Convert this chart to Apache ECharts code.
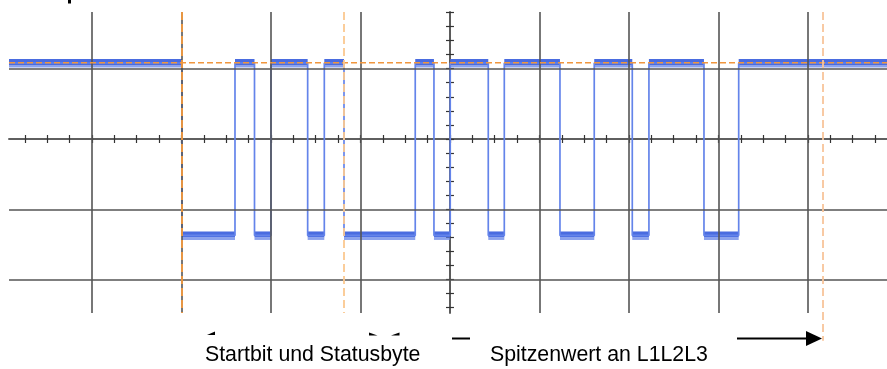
<!DOCTYPE html>
<html>
<head>
<meta charset="utf-8">
<script src="https://cdn.jsdelivr.net/npm/echarts@6/dist/echarts.min.js"></script>
<style>
html,body{margin:0;padding:0;background:#fff;}
#c{width:887px;height:369px;}
</style>
</head>
<body>
<div id="c"></div>
<script>
// Axis extents in screen divisions (center of screen = 0,0)
const XMIN = -4.927, XMAX = 4.883;
const YMIN = -2.475, YMAX = 1.806;

// grid divisions
const gridX = [-4, -3, -2, -1, 1, 2, 3, 4];
const gridY = [1, -1, -2];

// minor ticks on the center axes
const xTicks = [];
for (let k = -19; k <= 19; k++) xTicks.push(k * 0.25);
const yTicks = [];
for (let k = -12; k <= 9; k++) yTicks.push(Math.round(k * 0.2 * 100) / 100);

// signal: starts HIGH, toggles at each edge (x in divisions)
const edges = [-2.994, -2.402, -2.184, -2.000, -1.590, -1.404, -1.184, -0.388, -0.179, 0.003,
               0.428, 0.607, 1.229, 1.612, 2.037, 2.223, 2.838, 3.226];
const HIGH = 1.081;
const LOW = -1.372;

// cursors
const cursorY = 1.085;
const cursorX = [-2.994, -1.184, 4.168];
const cursorBottom = [YMIN, YMIN, -2.87];
const cursorColor = ['#f39a3e', '#fbc890', '#f8c49a'];

// build step trace
const trace = [];
let lvl = HIGH;
trace.push([XMIN, lvl]);
edges.forEach(e => {
  trace.push([e, lvl]);
  lvl = (lvl === HIGH) ? LOW : HIGH;
  trace.push([e, lvl]);
});
trace.push([XMAX, lvl]);

// plateaus (for the noisy band)
const plateaus = [];
{
  let start = XMIN, l = HIGH;
  edges.forEach(e => { plateaus.push([start, e, l]); start = e; l = (l === HIGH) ? LOW : HIGH; });
  plateaus.push([start, XMAX, l]);
}

const chart = echarts.init(document.getElementById('c'));

const axisLineStyle = { color: '#555', width: 1.6 };
const tickStyle = { color: '#333', width: 1.2 };

function mkX(inside) {
  return {
    type: 'value', min: XMIN, max: XMAX, position: 'bottom',
    axisLine: { show: true, onZero: true, lineStyle: axisLineStyle },
    axisTick: { show: true, inside: inside, length: 4, customValues: xTicks, lineStyle: tickStyle },
    axisLabel: { show: false }, splitLine: { show: false }
  };
}
function mkY(inside) {
  return {
    type: 'value', min: YMIN, max: YMAX, position: 'left',
    axisLine: { show: true, onZero: true, lineStyle: axisLineStyle },
    axisTick: { show: true, inside: inside, length: 4, customValues: yTicks, lineStyle: tickStyle },
    axisLabel: { show: false }, splitLine: { show: false }
  };
}

const series = [];
// grid lines
series.push({
  type: 'line', data: [], silent: true, z: 1,
  markLine: {
    silent: true, symbol: 'none', animation: false,
    label: { show: false },
    lineStyle: { color: '#555', width: 1.6, type: 'solid' },
    data: gridX.map(v => ({ xAxis: v })).concat(gridY.map(v => ({ yAxis: v })))
  }
});
// noisy band on plateaus
series.push({
  type: 'custom', data: plateaus, z: 3, silent: true,
  encode: { x: [0, 1], y: 2 },
  renderItem: function (params, api) {
    const p0 = api.coord([api.value(0), api.value(2)]);
    const p1 = api.coord([api.value(1), api.value(2)]);
    const w = p1[0] - p0[0];
    return {
      type: 'group',
      children: [
        { type: 'rect', shape: { x: p0[0], y: p0[1] - 4, width: w, height: 6 }, style: { fill: '#4a6ce0' } },
        { type: 'rect', shape: { x: p0[0], y: p0[1] + 2, width: w, height: 2.5 }, style: { fill: '#6f8ce8', opacity: 0.8 } }
      ]
    };
  }
});
// signal trace
series.push({
  type: 'line', data: trace, z: 4, silent: true,
  symbol: 'none', showSymbol: false,
  lineStyle: { color: '#6484ea', width: 1.7 }
});
// horizontal cursor
series.push({
  type: 'line', data: [[XMIN, cursorY], [XMAX, cursorY]], z: 6, silent: true,
  symbol: 'none', showSymbol: false,
  lineStyle: { color: '#f0963e', width: 1.6, type: [6, 3] }
});
// vertical cursors
cursorX.forEach((cx, i) => {
  series.push({
    type: 'line', data: [[cx, YMAX], [cx, cursorBottom[i]]], z: 6, silent: true, clip: false,
    symbol: 'none', showSymbol: false,
    lineStyle: { color: cursorColor[i], width: 1.8, type: [8, 4] }
  });
});

const font = '"Liberation Sans", Arial, sans-serif';
chart.setOption({
  animation: false,
  backgroundColor: '#ffffff',
  grid: { left: 9, top: 12, right: 0, bottom: 56, containLabel: false },
  xAxis: [mkX(false), mkX(true)],
  yAxis: [mkY(false), mkY(true)],
  series: series,
  graphic: [
    { type: 'rect', shape: { x: 68, y: 0, width: 3, height: 3.5 }, style: { fill: '#000' } },
    { type: 'text', left: 205, top: 345, style: { text: 'Startbit und Statusbyte', font: '21.3px ' + font, fill: '#000' } },
    { type: 'text', left: 490, top: 345, style: { text: 'Spitzenwert an L1L2L3', font: '21.3px ' + font, fill: '#000' } },
    { type: 'polygon', shape: { points: [[207, 335], [215, 331.5], [215, 335]] }, style: { fill: '#000' } },
    { type: 'polygon', shape: { points: [[369, 332.5], [377.5, 335.5], [369, 335.5]] }, style: { fill: '#000' } },
    { type: 'polygon', shape: { points: [[391, 335.5], [399.5, 332.5], [399.5, 335.5]] }, style: { fill: '#000' } },
    { type: 'line', shape: { x1: 452, y1: 338.5, x2: 470, y2: 338.5 }, style: { stroke: '#000', lineWidth: 2 } },
    { type: 'line', shape: { x1: 737, y1: 338.5, x2: 808, y2: 338.5 }, style: { stroke: '#000', lineWidth: 2 } },
    { type: 'polygon', shape: { points: [[806, 331], [822, 338.5], [806, 346]] }, style: { fill: '#000' } }
  ]
});
</script>
</body>
</html>
